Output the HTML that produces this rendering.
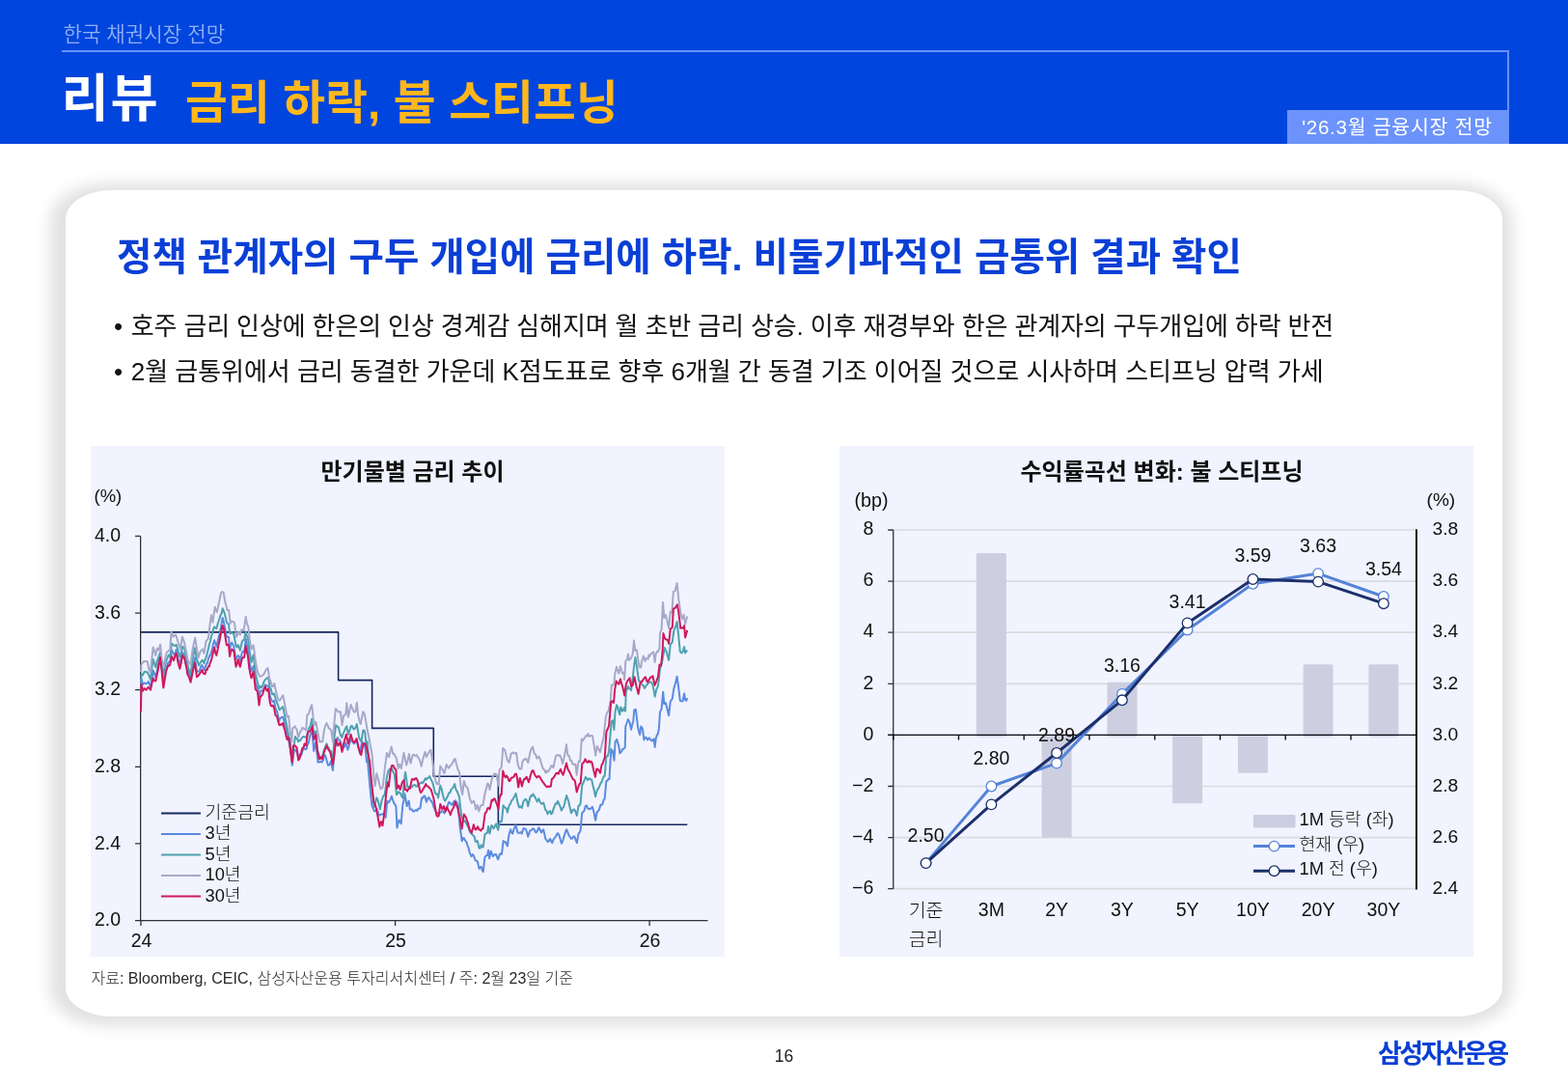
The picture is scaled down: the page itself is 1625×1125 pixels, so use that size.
<!DOCTYPE html>
<html lang="ko">
<head>
<meta charset="utf-8">
<title>한국 채권시장 전망</title>
<style>
html,body{margin:0;padding:0;}
body{width:1625px;height:1125px;background:#fff;position:relative;overflow:hidden;font-family:"Liberation Sans", "Noto Sans CJK KR", "NanumGothic", sans-serif;color:#111;}
.abs{position:absolute;white-space:nowrap;}
#hdr{left:0;top:0;width:1625px;height:148.5px;background:#0045dd;}
#sub{left:65.5px;top:21px;font-size:21.2px;line-height:30px;color:#8fb0f8;font-weight:350;}
#hline{left:64px;top:52px;width:1497.5px;height:62px;border-top:2px solid #6592f8;border-right:2px solid #6592f8;}
#tag{left:1334px;top:114px;width:230px;height:34.5px;background:#6b93fb;color:#fff;font-size:20.5px;line-height:35px;text-align:center;font-weight:400;letter-spacing:0.75px;text-indent:-2px;}
#t1{left:63.5px;top:67px;font-size:53.5px;letter-spacing:1.9px;line-height:72px;font-weight:700;color:#fff;}
#t2{left:192px;top:70.5px;font-size:47.6px;letter-spacing:0.15px;line-height:72px;font-weight:700;color:#ffb71b;}
#shadow{left:51.5px;top:190px;width:1515.5px;height:873px;border-radius:60px / 38px;background:rgba(0,0,0,0.118);filter:blur(7.5px);}
#card{left:68px;top:197px;width:1489px;height:856px;background:#fff;border-radius:48px / 30px;}
#h2{left:121px;top:236px;font-size:39.6px;line-height:60px;font-weight:700;color:#0a3fd6;}
.bl{left:118px;font-size:26px;line-height:40px;font-weight:400;color:#111;letter-spacing:-0.12px;}
.bl i{font-style:normal;margin-right:1.6px;}
.panel{background:#f1f3fe;}
#src{left:94.5px;top:1001.6px;font-size:16px;line-height:24px;color:#2a2a2a;letter-spacing:0.01px;font-weight:300;}
#pg{left:792.5px;top:1081.5px;width:40px;text-align:center;font-size:17.5px;line-height:24px;color:#222;}
#logo{left:1428px;top:1072px;font-size:27px;line-height:40px;font-weight:700;color:#0a3fd6;letter-spacing:-2.6px;}
svg{position:absolute;left:0;top:0;}
svg text{font-family:"Liberation Sans", "Noto Sans CJK KR", "NanumGothic", sans-serif;fill:#111;}
.ax{font-size:19.5px;font-weight:300;}
.ttl{font-size:24px;font-weight:700;}
.lg{font-size:18.3px;}
.un{font-size:18.5px;}
.ln{fill:none;stroke-width:2;stroke-linejoin:round;stroke-linecap:butt;}
</style>
</head>
<body>
<div class="abs" id="hdr"></div>
<div class="abs" id="sub">한국 채권시장 전망</div>
<div class="abs" id="hline"></div>
<div class="abs" id="tag">'26.3월 금융시장 전망</div>
<div class="abs" id="t1">리뷰</div>
<div class="abs" id="t2">금리 하락, 불 스티프닝</div>
<div class="abs" id="shadow"></div>
<div class="abs" id="card"></div>
<div class="abs" id="h2">정책 관계자의 구두 개입에 금리에 하락. 비둘기파적인 금통위 결과 확인</div>
<div class="abs bl" style="top:318px"><i>•</i> 호주 금리 인상에 한은의 인상 경계감 심해지며 월 초반 금리 상승. 이후 재경부와 한은 관계자의 구두개입에 하락 반전</div>
<div class="abs bl" style="top:365px;letter-spacing:-0.04px"><i>•</i> 2월 금통위에서 금리 동결한 가운데 K점도표로 향후 6개월 간 동결 기조 이어질 것으로 시사하며 스티프닝 압력 가세</div>
<div class="abs panel" style="left:94.4px;top:462.4px;width:656.6px;height:528.4px"></div>
<div class="abs panel" style="left:870px;top:462.4px;width:657px;height:528.4px"></div>
<svg width="1625" height="1125" viewBox="0 0 1625 1125">
<g id="chart-left">
<path d="M145.65 555.4 V953.6 H733.5" fill="none" stroke="#2e303a" stroke-width="1.3"/>
<path d="M140.05 555.40 H145.65 M140.05 635.04 H145.65 M140.05 714.68 H145.65 M140.05 794.32 H145.65 M140.05 873.96 H145.65 M140.05 953.6 H145.65 M146 953.6 V959.0 M409.6 953.6 V959.0 M673.1 953.6 V959.0 " fill="none" stroke="#2e303a" stroke-width="1.3"/>
<text x="98" y="561.1" class="ax">4.0</text>
<text x="98" y="640.74" class="ax">3.6</text>
<text x="98" y="720.38" class="ax">3.2</text>
<text x="98" y="800.02" class="ax">2.8</text>
<text x="98" y="879.6600000000001" class="ax">2.4</text>
<text x="98" y="959.3" class="ax">2.0</text>
<text x="146.5" y="981" class="ax" text-anchor="middle">24</text>
<text x="410" y="981" class="ax" text-anchor="middle">25</text>
<text x="673.5" y="981" class="ax" text-anchor="middle">26</text>
<text x="97.5" y="519.6" class="ax un">(%)</text>
<text x="427.5" y="497" class="ttl" text-anchor="middle">만기물별 금리 추이</text>
<path d="M146 654.9 H350.6 V704.6 H385.6 V754.4 H449.3 V804.2 H516.4 V854.2 H712.3" class="ln" stroke="#14265f" style="stroke-width:1.6"/>
<path d="M146.0 728.0 L146.4 702.9 L148.0 709.0 L149.6 707.4 L151.7 708.3 L152.8 707.3 L153.9 706.1 L156.0 712.2 L157.3 704.0 L158.7 694.6 L160.0 697.4 L161.3 701.8 L162.7 695.5 L164.0 688.3 L166.1 676.6 L167.7 692.6 L169.3 706.0 L170.7 699.8 L172.0 693.8 L174.1 686.9 L175.2 685.7 L176.3 685.0 L177.9 673.2 L180.0 677.9 L181.3 677.2 L182.7 673.0 L183.8 678.3 L184.8 683.4 L186.4 687.5 L187.8 681.7 L189.1 675.9 L191.2 679.2 L192.2 685.0 L193.3 690.2 L194.4 694.4 L195.5 696.5 L197.6 701.5 L199.7 692.2 L200.8 686.7 L201.9 681.3 L204.0 695.9 L206.1 695.5 L207.2 693.8 L208.2 690.2 L209.3 688.9 L210.4 691.2 L211.5 694.1 L212.6 691.4 L213.6 688.3 L214.7 687.2 L215.8 683.0 L216.8 680.1 L217.8 678.6 L218.9 676.0 L220.0 671.7 L221.0 667.3 L222.1 663.2 L223.2 666.6 L224.3 669.9 L225.4 665.0 L226.4 661.2 L227.5 656.9 L228.6 651.3 L229.6 645.9 L230.7 639.9 L231.8 644.0 L232.8 648.8 L234.9 660.0 L236.0 659.6 L237.1 659.9 L238.1 672.7 L239.2 667.3 L240.3 665.6 L242.4 669.9 L244.5 683.1 L245.6 680.6 L246.7 679.0 L247.8 680.1 L248.8 685.2 L250.9 675.6 L252.0 674.5 L253.1 676.0 L254.7 661.5 L255.8 666.8 L256.8 671.1 L258.4 685.7 L259.4 689.5 L260.5 695.2 L261.6 693.3 L262.7 689.9 L263.8 699.2 L264.8 708.3 L266.9 712.9 L268.5 724.4 L269.6 715.8 L271.0 715.6 L272.3 716.0 L273.6 713.1 L274.9 709.3 L276.5 710.6 L278.1 710.4 L279.7 720.8 L280.8 723.9 L281.9 726.1 L282.9 726.9 L284.0 725.9 L285.6 734.1 L287.2 737.2 L288.2 742.0 L289.3 747.0 L290.0 744.8 L291.1 743.6 L292.1 742.9 L293.2 742.7 L294.3 746.5 L295.3 751.2 L296.4 755.5 L297.5 759.9 L298.5 765.6 L299.6 769.1 L300.7 774.7 L301.8 783.3 L302.8 792.8 L304.9 776.8 L306.2 777.0 L307.6 778.9 L309.7 785.3 L311.0 780.9 L312.2 782.1 L313.5 777.9 L314.9 775.0 L316.3 776.2 L317.7 775.7 L318.8 771.3 L319.8 769.4 L320.9 764.0 L322.2 759.0 L323.6 757.6 L325.2 777.9 L326.2 773.6 L327.3 768.3 L328.4 778.6 L329.5 789.6 L330.9 789.5 L332.3 789.0 L333.7 789.6 L334.8 787.7 L335.8 783.6 L336.9 782.1 L338.0 785.6 L339.0 789.6 L340.1 792.8 L341.5 792.3 L342.8 788.5 L344.9 798.1 L346.0 785.3 L347.1 774.7 L348.4 770.0 L349.7 764.0 L350.8 766.3 L351.8 766.4 L352.9 768.3 L354.0 772.8 L355.1 776.8 L356.2 773.9 L357.2 773.3 L358.3 769.3 L360.4 776.8 L361.5 773.4 L362.5 769.5 L363.6 766.1 L364.7 767.3 L365.7 768.8 L366.8 770.4 L367.9 769.5 L368.9 768.2 L370.0 768.3 L371.1 773.5 L372.1 776.0 L373.2 781.1 L374.2 773.1 L375.3 768.3 L376.4 770.3 L377.4 772.4 L378.5 774.7 L380.0 789.2 L380.7 784.3 L381.9 798.7 L383.2 812.7 L384.2 823.3 L385.3 834.0 L386.6 837.1 L388.0 840.4 L389.4 839.6 L390.7 838.3 L392.0 842.4 L393.3 844.7 L394.4 843.7 L395.5 843.6 L396.8 843.3 L398.1 843.6 L399.7 846.8 L401.3 829.7 L402.6 831.4 L404.0 829.7 L405.9 824.9 L407.1 828.9 L408.3 831.9 L410.4 835.1 L411.5 857.5 L412.6 852.6 L413.6 849.5 L415.7 853.2 L417.3 834.0 L418.4 829.2 L419.5 822.3 L420.6 829.0 L421.6 835.1 L423.7 829.7 L424.8 838.3 L425.9 838.5 L426.9 838.6 L428.0 840.4 L429.1 840.5 L430.1 839.4 L431.2 839.1 L432.3 839.9 L433.4 837.8 L434.4 837.6 L435.5 837.2 L437.1 826.5 L438.2 826.8 L439.2 824.7 L440.3 824.4 L441.9 830.8 L443.2 827.1 L444.5 826.0 L445.8 828.6 L447.0 830.0 L448.3 831.9 L449.6 836.4 L450.9 839.3 L452.2 841.8 L453.4 842.0 L454.7 843.6 L455.8 842.4 L456.8 841.4 L457.9 840.4 L459.2 840.4 L460.5 842.5 L461.7 840.2 L462.9 837.9 L464.1 833.9 L465.3 830.8 L466.4 831.7 L467.4 832.7 L468.5 834.0 L469.6 831.7 L470.6 830.1 L471.7 829.2 L472.8 830.4 L473.8 831.6 L474.9 834.0 L476.5 855.3 L477.6 863.1 L478.7 871.3 L479.8 868.3 L480.8 868.1 L482.1 870.6 L483.5 872.4 L484.6 876.0 L485.6 878.5 L486.7 883.1 L488.5 887.1 L489.9 885.0 L491.2 887.1 L492.8 891.3 L494.9 892.4 L496.5 899.9 L497.6 898.8 L498.7 897.7 L499.8 901.4 L500.8 903.1 L502.4 888.1 L503.8 886.4 L505.1 886.0 L506.1 880.7 L507.2 889.2 L508.8 881.7 L510.9 887.1 L512.0 885.9 L513.0 885.1 L514.1 884.9 L515.2 888.2 L516.3 890.3 L517.9 884.9 L519.0 884.1 L520.0 884.9 L521.6 871.1 L522.7 872.5 L523.7 872.1 L524.8 874.0 L525.9 876.4 L527.5 864.7 L529.1 859.3 L530.2 862.3 L531.2 863.6 L532.8 858.3 L534.6 855.1 L536.5 862.5 L537.6 862.8 L538.6 862.8 L539.7 862.0 L540.8 863.6 L542.4 858.3 L543.8 858.2 L545.1 859.3 L546.2 862.8 L547.2 866.8 L549.3 860.4 L550.4 860.3 L551.4 859.2 L552.5 858.3 L553.6 859.1 L554.6 861.5 L555.7 862.5 L557.0 860.7 L558.4 857.2 L559.8 859.7 L561.1 862.5 L562.2 860.5 L563.2 859.3 L565.3 868.9 L566.4 870.1 L567.5 872.1 L568.8 871.2 L570.1 868.9 L571.2 871.5 L572.3 873.2 L573.6 869.7 L574.9 867.9 L576.0 866.6 L577.0 864.3 L578.1 863.1 L579.2 864.8 L580.3 867.9 L581.9 873.7 L583.0 871.8 L584.0 868.4 L585.1 864.7 L586.2 861.3 L587.2 859.3 L589.3 864.7 L590.6 866.9 L592.0 868.9 L593.1 868.5 L594.1 866.6 L595.2 866.3 L596.5 869.6 L597.9 873.2 L599.5 863.6 L600.5 862.6 L601.6 860.4 L603.2 842.3 L605.3 840.1 L606.9 834.8 L608.0 834.5 L609.1 837.5 L610.2 837.8 L611.2 838.2 L612.3 837.5 L613.9 835.9 L615.5 841.2 L617.1 849.7 L618.7 841.2 L620.8 839.1 L622.4 833.7 L623.5 833.7 L624.5 832.7 L625.6 828.8 L626.7 827.3 L628.3 809.2 L629.4 808.8 L630.4 807.0 L631.5 807.1 L633.3 776.0 L634.9 778.1 L636.5 787.7 L637.6 768.5 L639.2 765.9 L641.3 772.8 L642.4 780.3 L643.8 778.7 L645.1 776.0 L646.4 775.7 L647.7 774.4 L648.3 752.5 L649.6 749.0 L650.9 745.1 L652.5 748.3 L654.1 755.7 L655.2 750.8 L656.3 747.2 L657.3 735.5 L658.9 734.9 L660.0 744.0 L661.1 753.6 L662.2 758.1 L663.2 761.1 L664.3 752.5 L665.9 754.7 L667.5 766.4 L668.5 764.2 L669.6 763.7 L671.2 766.4 L672.8 764.3 L674.1 766.3 L675.5 767.5 L676.5 766.9 L677.6 765.3 L678.7 773.9 L679.7 765.3 L680.8 761.5 L681.8 760.4 L682.9 754.7 L684.0 737.6 L685.6 734.4 L687.2 716.8 L688.3 729.1 L689.9 728.0 L691.5 734.4 L693.1 741.3 L694.7 726.9 L696.8 723.7 L698.4 713.1 L700.0 707.7 L701.6 700.8 L703.2 712.0 L704.8 725.9 L706.1 726.2 L707.5 726.4 L709.1 718.4 L710.1 724.8 L711.2 725.9 L712.3 723.2" class="ln" stroke="#5b8be0"/>
<path d="M146.0 722.0 L146.4 698.1 L148.0 699.4 L149.6 695.8 L151.7 696.2 L152.8 696.3 L153.9 698.5 L156.0 703.9 L157.3 692.8 L158.7 682.8 L160.0 687.6 L161.3 691.2 L162.7 684.5 L164.0 682.0 L166.1 675.7 L167.7 690.4 L169.3 697.6 L170.7 691.5 L172.0 685.6 L174.1 679.9 L175.2 678.3 L176.3 680.8 L177.9 666.5 L180.0 668.4 L181.3 669.1 L182.7 667.9 L183.8 671.5 L184.8 674.7 L186.4 680.4 L187.8 676.3 L189.1 669.8 L191.2 672.0 L192.2 677.5 L193.3 683.5 L194.4 688.4 L195.5 692.9 L197.6 698.6 L199.7 682.5 L200.8 676.8 L201.9 671.3 L204.0 683.1 L206.1 689.4 L207.2 686.9 L208.2 685.9 L209.3 683.9 L210.4 684.3 L211.5 687.0 L212.6 683.3 L213.6 680.9 L214.7 676.9 L215.8 672.6 L216.8 668.0 L217.8 664.8 L218.9 659.5 L220.0 656.2 L221.0 652.2 L222.1 649.4 L223.2 650.4 L224.3 651.2 L225.4 647.3 L226.4 644.0 L227.5 640.9 L228.6 637.1 L229.6 635.7 L230.7 630.3 L231.8 632.9 L232.8 635.4 L234.9 644.6 L236.0 646.0 L237.1 647.0 L238.1 656.0 L239.2 656.1 L240.3 655.0 L242.4 657.3 L244.5 669.2 L245.6 670.4 L246.7 668.0 L247.8 670.6 L248.8 673.6 L250.9 664.6 L252.0 663.1 L253.1 662.7 L254.7 654.3 L255.8 659.2 L256.8 659.7 L258.4 672.9 L259.4 678.8 L260.5 686.0 L261.6 681.8 L262.7 678.3 L263.8 688.2 L264.8 697.4 L266.9 706.9 L268.5 713.2 L269.6 710.8 L271.0 712.4 L272.3 709.8 L273.6 706.0 L274.9 704.0 L276.5 702.7 L278.1 701.6 L279.7 712.5 L280.8 713.6 L281.9 719.0 L282.9 719.3 L284.0 718.4 L285.6 723.8 L287.2 728.2 L288.2 730.9 L289.3 734.5 L290.0 735.2 L291.1 733.8 L292.1 733.5 L293.2 732.0 L294.3 737.4 L295.3 742.8 L296.4 748.0 L297.5 752.9 L298.5 758.7 L299.6 763.9 L300.7 768.3 L301.8 776.8 L302.8 785.3 L303.9 777.6 L304.9 770.7 L306.0 762.9 L307.1 765.1 L308.1 765.6 L309.2 768.3 L310.3 766.8 L311.3 767.1 L312.4 765.0 L313.4 763.7 L314.5 762.9 L315.6 763.5 L316.6 763.6 L317.7 764.0 L318.8 760.4 L319.8 755.1 L320.9 753.3 L322.0 750.6 L323.1 744.8 L325.2 759.7 L326.2 758.8 L327.3 757.6 L328.9 776.8 L330.0 779.8 L331.1 784.3 L332.4 785.2 L333.7 784.3 L334.8 780.8 L335.9 776.8 L337.2 773.6 L338.5 770.4 L339.6 773.5 L340.7 774.7 L341.8 778.3 L342.8 777.9 L344.9 788.5 L346.5 764.0 L348.1 751.2 L349.5 752.7 L350.8 753.3 L352.0 758.3 L353.3 762.4 L354.5 764.0 L355.6 759.9 L356.7 757.6 L358.0 754.5 L359.3 752.3 L360.9 760.8 L362.2 757.2 L363.6 752.3 L364.7 751.8 L365.7 754.2 L366.8 755.5 L368.3 754.0 L369.8 750.1 L371.0 757.5 L372.1 764.0 L373.2 766.7 L374.3 768.3 L376.4 756.5 L377.4 756.4 L378.5 759.7 L380.0 780.7 L380.7 768.3 L381.9 783.6 L383.2 796.7 L384.2 807.6 L385.3 818.0 L386.6 827.4 L388.0 836.1 L389.1 831.5 L390.1 826.5 L391.2 827.7 L392.3 831.9 L393.9 838.3 L395.5 829.7 L396.6 826.3 L397.6 824.3 L398.7 823.3 L399.8 815.1 L400.8 805.2 L402.4 798.8 L403.5 797.0 L404.5 796.4 L405.6 795.6 L406.7 797.5 L407.7 800.4 L408.8 802.0 L410.9 823.3 L412.0 822.2 L413.1 820.1 L415.2 822.3 L416.2 824.6 L417.3 826.5 L418.6 812.6 L420.0 799.9 L421.1 805.9 L422.1 814.8 L423.4 814.9 L424.6 815.0 L425.9 814.8 L427.0 815.4 L428.0 813.6 L429.1 813.2 L430.2 813.2 L431.2 814.6 L432.3 814.8 L433.4 812.3 L434.4 811.7 L435.5 811.6 L436.8 810.4 L438.1 811.1 L439.5 809.0 L440.8 806.3 L441.9 807.6 L443.0 805.9 L444.0 805.7 L445.1 804.1 L446.2 806.4 L447.2 808.6 L448.3 810.5 L449.6 815.6 L450.9 821.2 L452.0 822.7 L453.0 822.5 L454.1 826.5 L455.2 819.6 L456.3 813.7 L457.6 817.3 L458.9 823.3 L460.0 827.3 L461.1 829.7 L462.5 827.5 L463.9 825.1 L465.3 821.2 L466.4 821.2 L467.4 818.1 L468.5 816.9 L469.9 815.4 L471.2 812.1 L472.5 817.9 L473.9 820.1 L474.9 822.8 L476.0 825.5 L477.1 835.6 L478.1 844.7 L479.2 847.8 L480.3 851.1 L481.6 850.1 L482.9 852.1 L484.0 854.8 L485.2 856.6 L486.4 860.0 L487.5 862.5 L488.6 863.1 L489.6 864.9 L490.7 865.7 L491.8 867.0 L492.8 872.1 L494.9 871.1 L496.5 878.5 L497.6 878.8 L498.7 875.3 L499.8 877.6 L500.8 877.5 L502.4 864.7 L503.8 863.3 L505.1 862.5 L506.1 856.1 L507.5 863.6 L509.3 855.1 L510.4 855.9 L511.5 858.3 L512.8 855.9 L514.1 853.5 L515.2 857.3 L516.3 859.9 L517.9 850.8 L519.0 851.2 L520.0 850.8 L521.6 834.3 L522.7 836.0 L523.7 836.9 L524.8 837.5 L525.9 841.7 L527.0 836.7 L528.0 833.7 L529.0 832.8 L530.1 829.5 L531.5 827.8 L532.8 825.7 L534.6 822.0 L536.5 831.6 L538.1 836.4 L539.5 835.3 L540.8 836.9 L542.4 830.5 L543.8 828.4 L545.1 827.9 L546.2 830.3 L547.2 835.3 L549.3 826.3 L550.4 824.1 L551.4 824.8 L552.5 822.5 L553.9 824.7 L555.2 827.3 L556.8 830.5 L558.4 827.3 L559.8 831.0 L561.1 832.7 L562.2 832.3 L563.2 831.6 L565.3 839.1 L566.4 839.8 L567.5 843.3 L568.8 841.1 L570.1 840.1 L571.2 843.3 L572.3 842.3 L573.6 837.9 L574.9 834.8 L576.0 832.2 L577.0 832.7 L578.1 830.0 L579.2 832.5 L580.3 834.8 L581.9 839.6 L583.0 837.3 L584.0 836.3 L585.1 832.7 L586.2 827.6 L587.2 824.1 L589.3 830.5 L590.6 836.6 L592.0 842.3 L593.1 840.1 L594.1 838.5 L595.2 838.5 L596.5 841.0 L597.9 844.9 L599.5 834.8 L600.5 834.5 L601.6 832.1 L603.2 813.5 L605.3 809.2 L606.9 804.9 L608.0 806.4 L609.1 808.1 L610.5 806.4 L611.9 807.1 L613.3 808.1 L614.4 813.6 L615.5 817.7 L617.1 825.2 L618.7 818.8 L620.8 815.6 L622.4 811.3 L623.5 810.1 L624.5 807.1 L625.6 804.5 L626.7 803.9 L628.4 783.6 L629.8 783.2 L631.1 778.3 L632.4 762.6 L633.7 747.3 L635.3 746.3 L636.4 755.9 L637.5 737.7 L639.1 730.3 L640.2 732.6 L641.2 736.9 L642.3 740.4 L643.3 732.4 L644.9 736.7 L646.0 735.7 L647.1 732.9 L648.1 736.7 L648.8 715.2 L649.8 714.5 L650.9 710.9 L652.0 713.3 L653.0 713.4 L654.1 715.2 L655.2 705.9 L656.3 697.1 L657.3 688.4 L658.4 681.1 L660.0 690.7 L661.0 698.1 L662.1 705.6 L663.5 706.1 L664.8 707.7 L665.9 709.7 L666.9 710.1 L668.0 713.1 L669.1 711.2 L670.1 709.4 L671.2 708.8 L672.3 707.0 L673.3 706.3 L674.4 706.7 L675.5 707.4 L676.5 709.9 L677.6 715.2 L678.7 721.6 L680.3 714.1 L681.9 710.9 L683.0 702.1 L684.0 692.8 L685.0 689.5 L686.1 686.0 L687.5 677.9 L688.8 671.1 L689.8 673.7 L690.9 675.3 L692.0 679.9 L693.1 683.9 L694.7 667.9 L696.8 665.2 L698.4 652.9 L700.0 649.7 L701.6 643.9 L703.2 658.3 L704.8 674.8 L706.1 676.4 L707.5 675.3 L709.1 670.0 L710.1 676.4 L711.2 674.9 L712.3 673.7" class="ln" stroke="#4ea1b0"/>
<path d="M146.1 696.0 L146.4 688.5 L148.0 686.4 L149.3 685.0 L150.7 685.3 L151.8 684.9 L152.8 685.3 L154.4 693.9 L156.0 696.0 L157.3 682.9 L158.7 670.4 L160.0 674.4 L161.3 678.9 L162.9 671.5 L164.5 673.6 L166.1 667.7 L167.7 683.2 L168.8 687.6 L169.9 690.7 L171.5 680.0 L172.8 675.8 L174.1 674.7 L175.2 673.8 L176.3 673.6 L177.5 654.4 L179.5 659.7 L180.8 658.2 L182.1 657.6 L183.4 661.1 L184.8 666.1 L186.9 672.5 L188.9 659.7 L190.1 662.8 L191.2 666.1 L192.2 671.5 L193.3 676.8 L194.4 683.3 L195.5 685.3 L197.6 688.5 L199.7 672.5 L200.9 666.8 L202.2 660.8 L204.0 672.5 L205.6 681.1 L207.7 674.7 L208.8 673.6 L209.9 672.5 L211.5 676.8 L213.6 664.0 L215.7 661.9 L216.8 654.1 L217.8 645.0 L218.9 637.3 L220.5 644.8 L221.6 636.5 L222.7 628.8 L223.8 631.9 L224.8 634.1 L226.9 624.5 L228.0 619.0 L229.1 613.9 L230.4 613.0 L231.7 613.9 L233.3 623.5 L234.4 627.2 L235.5 632.0 L237.1 632.0 L238.7 645.9 L239.8 643.6 L240.8 643.7 L242.9 644.8 L244.0 652.8 L245.1 659.7 L247.2 654.4 L248.8 657.6 L250.4 652.3 L252.5 653.3 L253.6 646.7 L254.7 638.9 L256.0 646.4 L257.3 649.1 L258.9 664.0 L260.5 672.5 L261.6 670.1 L262.7 668.3 L263.8 676.7 L264.8 685.3 L266.9 696.0 L268.0 698.2 L269.1 700.7 L270.2 700.8 L271.2 700.0 L272.3 699.6 L273.6 698.2 L274.9 695.3 L276.2 693.4 L277.6 692.1 L279.2 702.8 L280.5 705.8 L281.9 711.3 L283.0 711.1 L284.2 708.1 L285.4 713.2 L286.7 718.8 L287.8 723.0 L288.8 725.2 L290.0 725.6 L291.1 723.5 L292.1 722.2 L293.2 720.3 L294.2 724.9 L295.3 730.9 L296.4 736.4 L297.5 742.7 L299.1 741.6 L300.7 757.6 L302.3 768.3 L303.3 754.4 L304.4 753.7 L305.5 752.3 L306.6 754.4 L307.6 755.5 L309.2 764.0 L310.2 760.6 L311.3 757.6 L312.4 756.7 L313.4 753.8 L314.5 754.4 L315.9 755.5 L317.2 756.5 L318.3 740.5 L319.9 739.5 L321.0 735.9 L322.0 732.5 L323.1 730.4 L324.7 743.7 L326.3 751.2 L327.5 748.0 L329.5 759.7 L331.1 768.3 L332.2 768.6 L333.2 767.9 L334.3 768.3 L335.9 756.5 L337.2 752.0 L338.5 749.1 L339.6 751.4 L340.7 754.4 L342.0 755.1 L343.3 756.5 L344.9 768.3 L346.5 748.0 L347.9 734.1 L349.1 735.4 L350.3 737.3 L351.6 737.4 L352.9 737.3 L354.5 751.2 L356.1 741.6 L357.2 740.6 L358.3 740.5 L359.3 728.3 L360.9 742.7 L362.2 736.7 L363.6 729.9 L365.7 735.2 L367.0 737.7 L368.4 737.3 L369.8 727.7 L371.1 740.5 L372.4 746.2 L373.7 750.1 L375.0 743.5 L376.4 737.3 L378.0 740.5 L379.1 746.6 L380.1 753.3 L381.5 759.9 L382.8 766.1 L384.1 773.5 L385.5 781.1 L386.6 794.5 L387.6 806.7 L388.7 814.1 L390.3 801.3 L392.4 808.8 L393.4 813.1 L394.5 817.3 L395.6 816.7 L396.7 815.2 L397.8 805.3 L398.8 796.0 L400.9 780.0 L402.0 782.3 L403.1 784.3 L404.4 778.5 L405.7 773.6 L407.3 781.1 L408.4 780.8 L409.4 783.4 L410.5 784.3 L411.6 789.6 L412.7 796.0 L414.3 791.7 L415.9 796.0 L417.2 787.7 L418.5 780.0 L419.9 786.8 L421.2 792.8 L422.5 787.7 L423.9 781.1 L425.5 790.7 L426.6 786.4 L427.6 782.1 L428.7 781.7 L429.8 782.8 L430.8 783.0 L431.9 782.1 L433.2 784.7 L434.5 786.4 L435.6 789.4 L436.7 793.9 L438.3 786.4 L440.4 778.9 L442.0 784.3 L443.4 781.2 L444.7 778.9 L446.3 776.8 L447.9 785.3 L449.9 802.0 L451.2 808.0 L452.5 812.1 L453.6 811.4 L454.7 812.7 L456.3 793.5 L458.4 796.7 L459.4 798.9 L460.5 800.9 L461.6 796.9 L462.7 791.9 L464.0 794.7 L465.3 795.6 L466.4 793.6 L467.4 792.5 L468.5 791.3 L469.6 789.3 L470.6 786.8 L471.7 786.0 L473.0 791.4 L474.4 796.7 L476.0 799.9 L477.6 814.8 L479.2 823.3 L480.8 808.9 L482.9 814.8 L484.5 815.9 L485.6 820.8 L486.7 826.5 L487.8 829.7 L488.8 831.9 L490.9 829.7 L492.0 833.0 L493.1 838.3 L494.7 834.0 L496.3 840.4 L497.9 835.1 L499.2 834.0 L500.5 834.0 L501.6 827.3 L502.7 821.2 L504.0 816.4 L505.3 811.6 L506.4 812.6 L507.5 818.0 L508.6 813.1 L509.6 807.3 L510.9 804.2 L512.3 801.5 L513.3 801.9 L514.4 802.0 L515.5 808.4 L516.5 813.7 L517.6 797.7 L518.7 796.1 L519.7 794.5 L521.2 775.1 L523.3 777.2 L524.6 782.9 L526.0 787.9 L527.6 790.0 L528.7 785.3 L529.7 780.4 L530.8 780.6 L531.9 779.3 L533.0 780.1 L534.0 780.7 L535.1 779.9 L536.7 792.1 L538.3 796.4 L539.3 796.4 L540.4 796.4 L541.5 788.9 L542.6 786.9 L543.6 787.0 L544.7 785.7 L546.0 786.9 L547.3 790.0 L548.6 783.6 L550.0 777.2 L551.0 775.1 L552.1 773.5 L553.7 780.4 L555.0 781.1 L556.4 785.7 L557.5 784.3 L558.5 783.6 L559.6 785.9 L560.7 790.0 L562.8 796.4 L564.1 797.4 L565.5 800.7 L566.6 798.4 L567.6 799.6 L568.7 798.5 L570.0 796.4 L571.3 793.2 L572.4 793.2 L573.5 795.3 L574.8 788.7 L576.1 783.1 L577.2 782.2 L578.2 781.9 L579.3 783.1 L580.4 782.5 L581.8 785.9 L583.1 791.1 L584.4 785.6 L585.7 779.3 L587.0 771.3 L588.4 782.5 L589.8 783.0 L591.1 787.9 L592.2 787.9 L593.2 791.1 L594.3 792.1 L595.3 791.4 L596.4 792.1 L597.7 802.8 L599.1 791.1 L600.2 788.2 L601.2 788.9 L602.8 765.5 L603.8 767.4 L604.9 765.5 L606.0 764.5 L607.1 762.3 L608.2 762.5 L609.4 760.0 L610.5 763.0 L611.7 762.2 L612.9 762.1 L614.0 762.3 L615.6 771.9 L617.2 782.5 L618.8 772.9 L620.4 776.1 L622.0 779.3 L623.6 771.9 L624.7 767.4 L625.7 763.3 L626.8 751.8 L627.9 742.0 L629.2 738.2 L630.5 736.7 L631.6 731.5 L632.7 726.0 L633.9 709.5 L635.2 709.7 L636.5 708.4 L637.1 698.8 L639.0 690.8 L640.1 694.8 L641.3 697.7 L642.9 690.3 L644.0 694.3 L645.1 697.7 L646.7 696.7 L647.2 704.1 L648.3 684.9 L649.9 683.3 L650.9 677.5 L652.0 683.9 L653.0 682.9 L654.1 681.7 L655.7 677.5 L657.0 663.6 L658.4 674.3 L660.0 673.2 L661.1 682.8 L662.7 691.3 L664.3 691.3 L664.8 686.0 L665.8 683.2 L666.9 679.6 L668.5 684.9 L670.1 681.7 L671.7 682.8 L672.3 678.5 L673.3 679.9 L674.4 677.5 L675.8 676.4 L677.1 675.3 L678.7 686.0 L679.7 677.5 L680.8 675.0 L681.9 675.3 L683.5 671.1 L684.0 656.1 L685.6 651.9 L687.0 624.1 L688.3 640.1 L689.9 636.9 L691.5 643.3 L693.1 650.8 L694.7 633.7 L696.3 634.8 L697.9 612.9 L699.5 612.4 L700.5 608.3 L701.6 603.9 L703.2 619.9 L705.3 634.8 L706.9 641.2 L708.7 636.9 L710.1 646.5 L711.2 642.1 L712.3 638.5" class="ln" stroke="#a6a9c9"/>
<path d="M146.0 737.0 L146.4 708.8 L148.0 715.7 L149.6 713.1 L151.7 714.7 L152.8 712.6 L153.9 712.0 L156.0 714.7 L157.3 708.5 L158.7 702.4 L160.0 705.3 L161.3 705.6 L162.7 699.3 L164.0 692.8 L166.1 681.1 L167.7 696.0 L169.3 712.5 L170.7 704.3 L172.0 696.0 L174.1 689.6 L175.2 689.7 L176.3 688.5 L177.9 680.0 L180.0 684.3 L181.3 679.5 L182.7 676.8 L183.8 682.5 L184.8 687.5 L186.4 692.8 L187.8 686.3 L189.1 678.9 L191.2 682.1 L192.2 686.9 L193.3 691.7 L194.4 698.8 L195.5 700.3 L197.6 706.7 L199.7 696.0 L200.8 691.1 L201.9 686.4 L204.0 701.3 L206.1 699.2 L207.2 697.4 L208.2 696.0 L209.3 693.9 L210.4 696.9 L211.5 698.1 L212.6 698.2 L213.6 693.7 L214.7 693.9 L215.8 690.3 L216.8 690.4 L217.8 686.5 L218.9 684.3 L220.0 679.5 L221.0 675.0 L222.1 670.4 L223.2 676.3 L224.3 678.9 L225.4 674.1 L226.4 668.6 L227.5 664.0 L228.6 658.0 L229.6 652.7 L230.7 648.0 L231.8 651.2 L232.8 655.5 L234.9 668.3 L236.0 667.6 L237.1 669.3 L238.1 680.0 L239.2 674.8 L240.3 672.5 L242.4 674.7 L244.5 690.7 L245.6 687.8 L246.7 683.2 L247.8 687.6 L248.8 690.7 L250.9 682.1 L252.0 681.0 L253.1 681.1 L254.7 669.3 L255.8 674.9 L256.8 678.9 L258.4 692.8 L259.4 697.8 L260.5 702.4 L261.6 698.7 L262.7 696.0 L263.8 705.3 L264.8 714.1 L266.9 716.3 L268.5 730.5 L269.6 722.0 L271.0 720.7 L272.3 718.8 L273.6 714.4 L274.9 711.3 L276.5 715.6 L278.1 713.5 L279.7 727.3 L280.8 730.9 L281.9 731.6 L282.9 730.9 L284.0 732.7 L285.6 741.2 L287.2 742.3 L288.2 747.0 L289.3 750.8 L290.0 751.2 L291.1 750.2 L292.1 750.8 L293.2 749.1 L294.2 753.3 L295.3 756.5 L296.4 761.9 L297.5 766.1 L298.6 763.8 L299.6 765.1 L301.2 778.9 L302.8 789.6 L303.9 772.5 L304.9 772.4 L306.0 772.5 L307.6 774.7 L309.2 787.5 L310.2 786.4 L311.3 783.2 L312.4 778.6 L313.5 774.7 L314.6 774.5 L315.6 770.4 L317.2 772.5 L318.8 758.7 L320.9 757.6 L322.2 755.8 L323.6 752.3 L325.2 766.1 L326.2 764.4 L327.3 760.8 L328.9 778.9 L330.0 782.3 L331.1 786.4 L332.4 784.3 L333.7 786.4 L334.8 782.8 L335.9 778.9 L337.2 775.7 L338.5 772.5 L339.6 775.3 L340.7 776.8 L341.8 778.5 L342.8 781.1 L344.9 791.7 L346.0 785.3 L347.1 775.1 L348.1 766.1 L349.2 768.6 L350.3 772.5 L352.4 769.3 L353.4 773.3 L354.5 778.9 L355.6 773.1 L356.7 768.3 L357.8 764.5 L358.8 760.8 L360.9 770.4 L362.2 765.7 L363.6 760.8 L365.7 768.3 L366.8 768.9 L367.9 768.3 L369.5 765.1 L370.6 769.6 L371.6 774.7 L373.0 779.1 L374.3 782.1 L376.4 770.4 L377.4 770.3 L378.5 770.4 L380.0 775.3 L381.1 779.3 L382.1 784.1 L383.2 789.2 L384.2 800.9 L385.3 812.7 L386.4 822.0 L387.5 831.9 L388.6 833.4 L389.6 836.1 L391.7 846.8 L393.3 856.4 L394.9 851.1 L396.5 855.3 L397.6 847.0 L398.7 838.3 L400.3 821.2 L401.9 810.5 L402.9 814.8 L404.5 799.9 L406.1 792.9 L407.5 793.0 L408.8 795.6 L410.4 797.7 L411.5 816.9 L413.1 813.7 L414.7 818.0 L415.8 814.0 L416.8 810.5 L418.4 808.4 L420.0 818.0 L421.1 818.0 L422.1 819.6 L423.5 816.8 L424.8 816.9 L426.9 807.3 L428.1 806.9 L429.3 807.9 L430.5 806.3 L431.7 806.3 L432.8 808.9 L433.9 812.7 L434.9 817.6 L436.0 821.2 L437.4 819.6 L438.7 816.9 L440.0 815.1 L441.3 812.1 L442.6 814.6 L444.0 814.8 L445.4 816.6 L446.7 818.0 L448.0 822.2 L449.3 826.5 L450.9 836.1 L452.5 844.7 L453.6 845.8 L454.7 845.2 L456.3 832.9 L458.4 838.3 L460.0 835.1 L461.6 840.4 L463.2 836.1 L464.2 838.5 L465.3 840.4 L466.9 844.1 L468.0 840.0 L469.1 838.3 L470.4 835.5 L471.7 830.8 L473.0 834.2 L474.4 837.2 L475.4 842.8 L476.5 846.8 L477.6 852.7 L478.7 858.5 L479.8 850.2 L480.8 843.6 L482.9 846.8 L484.0 850.0 L485.1 853.2 L486.7 859.6 L487.8 861.0 L488.8 862.8 L490.9 854.3 L492.0 858.6 L493.1 859.6 L495.2 856.4 L496.2 859.2 L497.3 859.6 L498.4 860.6 L499.4 858.6 L500.5 858.5 L501.6 850.6 L502.7 842.5 L504.0 841.3 L505.3 837.2 L506.4 836.9 L507.5 838.3 L508.6 833.7 L509.6 828.7 L510.7 829.4 L511.7 827.5 L512.8 827.6 L513.8 830.3 L514.9 832.9 L516.5 838.3 L517.6 827.6 L518.7 823.3 L519.7 823.3 L521.2 798.5 L522.8 803.9 L523.9 805.3 L524.9 803.5 L526.0 804.9 L527.6 809.2 L528.7 808.6 L529.7 806.0 L531.0 805.5 L532.4 804.9 L533.8 801.8 L535.1 801.7 L536.2 807.9 L537.2 815.6 L538.8 806.0 L539.8 809.6 L540.9 814.5 L542.0 810.2 L543.1 807.1 L544.4 806.9 L545.7 804.9 L546.8 807.2 L547.9 810.3 L549.0 806.7 L550.0 802.8 L551.2 798.9 L552.5 798.0 L554.3 802.8 L555.3 804.3 L556.4 805.5 L557.5 804.2 L558.5 803.9 L559.9 805.7 L561.2 808.1 L562.8 810.3 L564.1 812.2 L565.5 814.0 L566.8 815.3 L568.1 814.5 L569.5 815.0 L570.8 814.5 L571.9 807.1 L573.2 806.1 L574.5 804.4 L575.6 802.5 L576.7 800.7 L578.8 801.7 L579.8 798.9 L580.9 796.9 L582.2 800.2 L583.6 802.8 L584.7 799.4 L585.7 795.3 L587.0 790.5 L588.4 796.4 L589.8 798.9 L591.1 801.7 L592.4 804.4 L593.7 807.1 L594.8 807.7 L595.9 809.2 L597.7 820.4 L599.6 814.5 L600.7 811.8 L601.7 811.3 L603.3 791.1 L604.9 790.0 L606.5 786.3 L608.1 789.5 L609.2 789.7 L610.3 788.1 L611.3 789.6 L612.4 788.8 L613.5 790.0 L615.1 797.5 L617.0 804.9 L618.3 796.4 L619.6 797.0 L620.9 798.5 L622.0 800.7 L623.6 792.1 L624.7 790.8 L625.7 787.5 L626.8 784.7 L628.4 758.0 L629.8 755.3 L631.1 751.6 L632.2 739.1 L633.3 726.9 L634.6 726.3 L636.0 728.0 L637.1 715.2 L638.7 705.6 L640.0 707.8 L641.3 708.8 L642.9 703.5 L644.0 707.9 L645.1 710.9 L646.2 715.4 L647.2 720.5 L648.8 708.8 L649.8 706.3 L650.9 704.5 L652.5 702.4 L654.1 710.9 L655.7 709.9 L657.5 701.3 L659.5 710.9 L660.5 714.6 L661.6 718.9 L662.7 712.6 L663.7 706.7 L664.8 706.1 L665.8 705.4 L666.9 703.5 L668.0 702.1 L669.1 701.3 L670.2 705.4 L671.2 706.7 L673.3 702.9 L674.4 701.4 L675.4 701.5 L676.5 700.3 L678.5 709.9 L680.3 705.6 L681.9 701.3 L683.5 688.5 L685.1 689.6 L686.7 673.2 L687.4 656.1 L688.8 660.4 L689.8 662.2 L690.9 662.5 L692.0 663.1 L693.1 666.8 L694.7 651.9 L696.8 649.7 L697.9 630.5 L699.0 630.1 L700.0 629.5 L701.9 626.3 L703.2 633.7 L705.3 650.8 L706.6 650.3 L708.0 650.8 L709.1 648.1 L710.1 660.4 L711.2 656.6 L712.3 652.9" class="ln" stroke="#d0185c"/>
<path d="M167 842.6 H208" class="ln" stroke="#16295f"/>
<text x="212.5" y="847.8" class="ax lg">기준금리</text>
<path d="M167 864.1 H208" class="ln" stroke="#5b8be0"/>
<text x="212.5" y="869.3" class="ax lg">3년</text>
<path d="M167 885.5 H208" class="ln" stroke="#4ea1b0"/>
<text x="212.5" y="890.7" class="ax lg">5년</text>
<path d="M167 907.0 H208" class="ln" stroke="#a6a9c9"/>
<text x="212.5" y="912.2" class="ax lg">10년</text>
<path d="M167 928.4 H208" class="ln" stroke="#d0185c"/>
<text x="212.5" y="933.6" class="ax lg">30년</text>
</g>
<g id="chart-right">
<path d="M925.75 549.0 H1467.9 M925.75 602.1 H1467.9 M925.75 655.2 H1467.9 M925.75 708.3 H1467.9 M925.75 814.5 H1467.9 M925.75 867.6 H1467.9 M925.75 920.7 H1467.9 " fill="none" stroke="#dadadf" stroke-width="1.7"/>
<rect x="1011.9" y="572.9" width="31" height="190.5" rx="1.5" fill="#cdcfe1"/>
<rect x="1079.6" y="760.9" width="31" height="106.7" rx="1.5" fill="#cdcfe1"/>
<rect x="1147.4" y="706.7" width="31" height="56.7" rx="1.5" fill="#cdcfe1"/>
<rect x="1215.1" y="760.9" width="31" height="71.4" rx="1.5" fill="#cdcfe1"/>
<rect x="1282.9" y="760.9" width="31" height="39.8" rx="1.5" fill="#cdcfe1"/>
<rect x="1350.6" y="688.2" width="31" height="75.2" rx="1.5" fill="#cdcfe1"/>
<rect x="1418.4" y="688.2" width="31" height="75.2" rx="1.5" fill="#cdcfe1"/>
<path d="M925.75 549.0 V920.7" fill="none" stroke="#2e303a" stroke-width="1.3"/>
<path d="M920.25 549.0 H925.75 M920.25 602.1 H925.75 M920.25 655.2 H925.75 M920.25 708.3 H925.75 M920.25 761.4 H925.75 M920.25 814.5 H925.75 M920.25 867.6 H925.75 M920.25 920.7 H925.75 " fill="none" stroke="#2e303a" stroke-width="1.3"/>
<path d="M920.25 761.4 H1467.9 M925.8 761.4 V766.4 M993.5 761.4 V766.4 M1061.2 761.4 V766.4 M1129.0 761.4 V766.4 M1196.8 761.4 V766.4 M1264.5 761.4 V766.4 M1332.2 761.4 V766.4 M1400.0 761.4 V766.4 " fill="none" stroke="#08080f" stroke-width="1.35"/>
<path d="M1467.9 548.3 V921.4" fill="none" stroke="#08080f" stroke-width="1.9"/>
<text x="905.3" y="554.2" class="ax" text-anchor="end">8</text>
<text x="905.3" y="607.3" class="ax" text-anchor="end">6</text>
<text x="905.3" y="660.4" class="ax" text-anchor="end">4</text>
<text x="905.3" y="713.5" class="ax" text-anchor="end">2</text>
<text x="905.3" y="766.6" class="ax" text-anchor="end">0</text>
<text x="905.3" y="819.7" class="ax" text-anchor="end">−2</text>
<text x="905.3" y="872.8" class="ax" text-anchor="end">−4</text>
<text x="905.3" y="925.9" class="ax" text-anchor="end">−6</text>
<text x="1484.6" y="554.2" class="ax" style="font-size:19.2px">3.8</text>
<text x="1484.6" y="607.3" class="ax" style="font-size:19.2px">3.6</text>
<text x="1484.6" y="660.4" class="ax" style="font-size:19.2px">3.4</text>
<text x="1484.6" y="713.5" class="ax" style="font-size:19.2px">3.2</text>
<text x="1484.6" y="766.6" class="ax" style="font-size:19.2px">3.0</text>
<text x="1484.6" y="819.7" class="ax" style="font-size:19.2px">2.8</text>
<text x="1484.6" y="872.8" class="ax" style="font-size:19.2px">2.6</text>
<text x="1484.6" y="925.9" class="ax" style="font-size:19.2px">2.4</text>
<text x="885.5" y="524.6" class="ax un" style="font-size:19.7px">(bp)</text>
<text x="1478.6" y="524" class="ax un" style="font-size:19px">(%)</text>
<text x="1204" y="496.5" class="ttl" text-anchor="middle">수익률곡선 변화: 불 스티프닝</text>
<text x="959.6" y="950.2" class="ax" text-anchor="middle">기준</text>
<text x="1027.4" y="949" class="ax" text-anchor="middle">3M</text>
<text x="1095.1" y="949" class="ax" text-anchor="middle">2Y</text>
<text x="1162.9" y="949" class="ax" text-anchor="middle">3Y</text>
<text x="1230.6" y="949" class="ax" text-anchor="middle">5Y</text>
<text x="1298.4" y="949" class="ax" text-anchor="middle">10Y</text>
<text x="1366.1" y="949" class="ax" text-anchor="middle">20Y</text>
<text x="1433.9" y="949" class="ax" text-anchor="middle">30Y</text>
<text x="959.6" y="980.2" class="ax" text-anchor="middle">금리</text>
<path d="M959.6 894.1 L1027.4 814.5 L1095.1 790.6 L1162.9 718.9 L1230.6 652.5 L1298.4 604.8 L1366.1 594.1 L1433.9 618.0" fill="none" stroke="#5483d8" stroke-width="3" stroke-linejoin="round"/>
<circle cx="959.6" cy="894.1" r="5.3" fill="#fff" stroke="#5483d8" stroke-width="1.3"/>
<circle cx="1027.4" cy="814.5" r="5.3" fill="#fff" stroke="#5483d8" stroke-width="1.3"/>
<circle cx="1095.1" cy="790.6" r="5.3" fill="#fff" stroke="#5483d8" stroke-width="1.3"/>
<circle cx="1162.9" cy="718.9" r="5.3" fill="#fff" stroke="#5483d8" stroke-width="1.3"/>
<circle cx="1230.6" cy="652.5" r="5.3" fill="#fff" stroke="#5483d8" stroke-width="1.3"/>
<circle cx="1298.4" cy="604.8" r="5.3" fill="#fff" stroke="#5483d8" stroke-width="1.3"/>
<circle cx="1366.1" cy="594.1" r="5.3" fill="#fff" stroke="#5483d8" stroke-width="1.3"/>
<circle cx="1433.9" cy="618.0" r="5.3" fill="#fff" stroke="#5483d8" stroke-width="1.3"/>
<path d="M959.6 894.1 L1027.4 833.4 L1095.1 780.0 L1162.9 725.3 L1230.6 645.4 L1298.4 600.0 L1366.1 602.6 L1433.9 625.2" fill="none" stroke="#1b2f6b" stroke-width="3" stroke-linejoin="round"/>
<circle cx="959.6" cy="894.1" r="5.3" fill="#fff" stroke="#1b2f6b" stroke-width="1.3"/>
<circle cx="1027.4" cy="833.4" r="5.3" fill="#fff" stroke="#1b2f6b" stroke-width="1.3"/>
<circle cx="1095.1" cy="780.0" r="5.3" fill="#fff" stroke="#1b2f6b" stroke-width="1.3"/>
<circle cx="1162.9" cy="725.3" r="5.3" fill="#fff" stroke="#1b2f6b" stroke-width="1.3"/>
<circle cx="1230.6" cy="645.4" r="5.3" fill="#fff" stroke="#1b2f6b" stroke-width="1.3"/>
<circle cx="1298.4" cy="600.0" r="5.3" fill="#fff" stroke="#1b2f6b" stroke-width="1.3"/>
<circle cx="1366.1" cy="602.6" r="5.3" fill="#fff" stroke="#1b2f6b" stroke-width="1.3"/>
<circle cx="1433.9" cy="625.2" r="5.3" fill="#fff" stroke="#1b2f6b" stroke-width="1.3"/>
<text x="959.6" y="871.6" class="ax" text-anchor="middle">2.50</text>
<text x="1027.4" y="792.0" class="ax" text-anchor="middle">2.80</text>
<text x="1095.1" y="768.1" class="ax" text-anchor="middle">2.89</text>
<text x="1162.9" y="696.4" class="ax" text-anchor="middle">3.16</text>
<text x="1230.6" y="630.0" class="ax" text-anchor="middle">3.41</text>
<text x="1298.4" y="582.3" class="ax" text-anchor="middle">3.59</text>
<text x="1366.1" y="571.6" class="ax" text-anchor="middle">3.63</text>
<text x="1433.9" y="595.5" class="ax" text-anchor="middle">3.54</text>
<rect x="1299" y="844" width="43.5" height="13.5" rx="1.5" fill="#cbcde0"/>
<text x="1346.5" y="854.6" class="ax lg">1M 등락 (좌)</text>
<path d="M1299 876.6 H1342" fill="none" stroke="#5483d8" stroke-width="3"/>
<circle cx="1320.5" cy="876.6" r="5.3" fill="#fff" stroke="#5483d8" stroke-width="1.3"/>
<text x="1346.5" y="880.6" class="ax lg">현재 (우)</text>
<path d="M1299 902.2 H1342" fill="none" stroke="#1b2f6b" stroke-width="3"/>
<circle cx="1320.5" cy="902.2" r="5.3" fill="#fff" stroke="#1b2f6b" stroke-width="1.3"/>
<text x="1346.5" y="906.2" class="ax lg">1M 전 (우)</text>
</g>
</svg>
<div class="abs" id="src">자료: Bloomberg, CEIC, 삼성자산운용 투자리서치센터 / 주: 2월 23일 기준</div>
<div class="abs" id="pg">16</div>
<div class="abs" id="logo">삼성자산운용</div>
</body>
</html>
